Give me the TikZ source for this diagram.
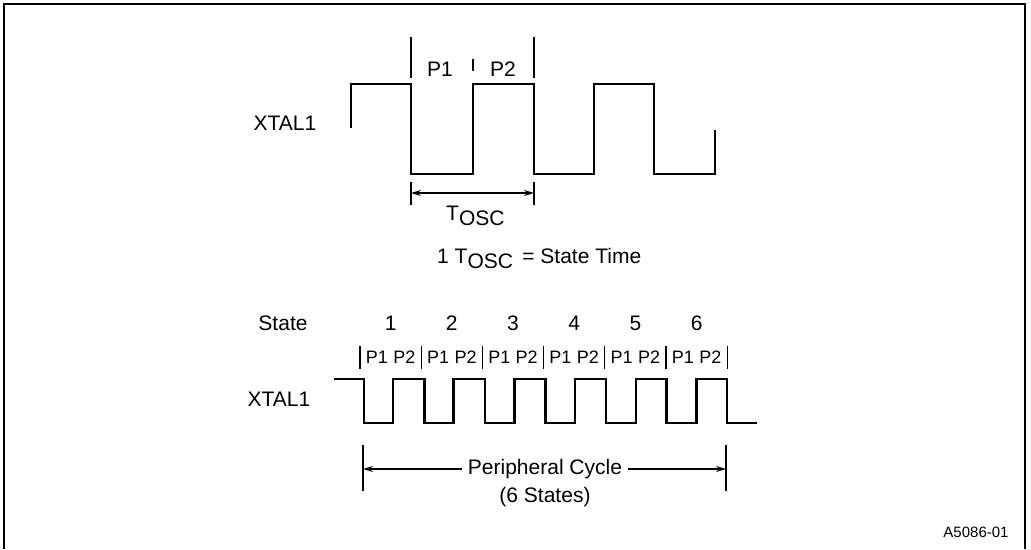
\documentclass[tikz,border=0pt]{standalone}
\usepackage{fontspec}
\setmainfont{Liberation Sans}
\usetikzlibrary{arrows.meta}
\newcommand{\subosc}{\raisebox{-0.45ex}{OSC}}
\begin{document}
\begin{tikzpicture}[x=1pt,y=-1pt,
  lbl/.style={inner sep=0pt,font=\fontsize{21}{24}\selectfont},
  small/.style={inner sep=0pt,font=\fontsize{18}{21}\selectfont},
  tiny/.style={inner sep=0pt,font=\fontsize{15}{18}\selectfont},
  wave/.style={line width=2.6pt,line join=miter,line cap=butt},
  tick/.style={line width=1.2pt},
  dim/.style={line width=1.2pt,{Stealth[length=10pt,width=6pt]}-{Stealth[length=10pt,width=6pt]}},
  half/.style={line width=1.2pt,-{Stealth[length=10pt,width=6pt]}},
  frame/.style={line width=2pt}]
\useasboundingbox (0,0) rectangle (1031,549);
% frame
\draw[frame] (4,549) -- (4,4) -- (1025,4) -- (1025,549);

% ---- top waveform
\node[lbl] (xtal1a) at (285,123) {XTAL1};
\draw[wave] (351,128) -- (351,84) -- (411,84) -- (411,174) -- (473,174) -- (473,84)
  -- (534,84) -- (534,174) -- (594,174) -- (594,84) -- (654,84) -- (654,174)
  -- (715,174) -- (715,130);
\draw[tick] (411,37) -- (411,78);
\draw[tick] (534,37) -- (534,78);
\draw[tick] (473,59) -- (473,71);
\node[lbl] (p1top) at (440,69) {P1};
\node[lbl] (p2top) at (503,69) {P2};
\coordinate (ta) at (411,193);
\coordinate (tb) at (534,193);
\draw[tick] (411,182) -- (411,205);
\draw[tick] (534,182) -- (534,205);
\draw[dim] (ta) -- (tb);
\node[lbl,anchor=west] (tosc) at (446,216) {T\subosc};
\node[lbl,anchor=west] (state) at (437,258) {1 T\subosc\ \,= State Time};

% ---- bottom
\node[lbl] (statelbl) at (283,323) {State};
\foreach \i in {1,...,6} {
  \pgfmathsetmacro{\cx}{360+61.2*(\i-0.5)}
  \node[lbl] (n\i) at (\cx,323) {\i};
  \node[small] (pp\i) at (\cx,357) {P1\hspace{0.3em}P2};
}
\foreach \k in {0,...,6} {
  \pgfmathsetmacro{\bx}{360+61.2*\k}
  \draw[tick] (\bx,346) -- (\bx,369);
}
\node[lbl] (xtal1b) at (279,399) {XTAL1};
\draw[wave] (334,379) -- (364,379) -- (364,423) -- (393,423) -- (393,379)
  -- (424.5,379) -- (424.5,423) -- (453.7,423) -- (453.7,379)
  -- (485,379) -- (485,423) -- (514.4,423) -- (514.4,379)
  -- (545.5,379) -- (545.5,423) -- (575,423) -- (575,379)
  -- (606,379) -- (606,423) -- (635.8,423) -- (635.8,379)
  -- (666.5,379) -- (666.5,423) -- (696.5,423) -- (696.5,379)
  -- (727,379) -- (727,423) -- (757,423);
\draw[tick] (363,445) -- (363,491);
\draw[tick] (726,445) -- (726,491);
\coordinate (pa) at (363,469);
\coordinate (pb) at (726,469);
\node[lbl] (periph) at (545,469) {Peripheral Cycle};
\node[lbl] (six) at (545,497) {(6 States)};
\draw[half] ([xshift=-6pt]periph.west) -- (pa);
\draw[half] ([xshift=6pt]periph.east) -- (pb);

\node[tiny] (code) at (976,532) {A5086-01};
\end{tikzpicture}
\end{document}
